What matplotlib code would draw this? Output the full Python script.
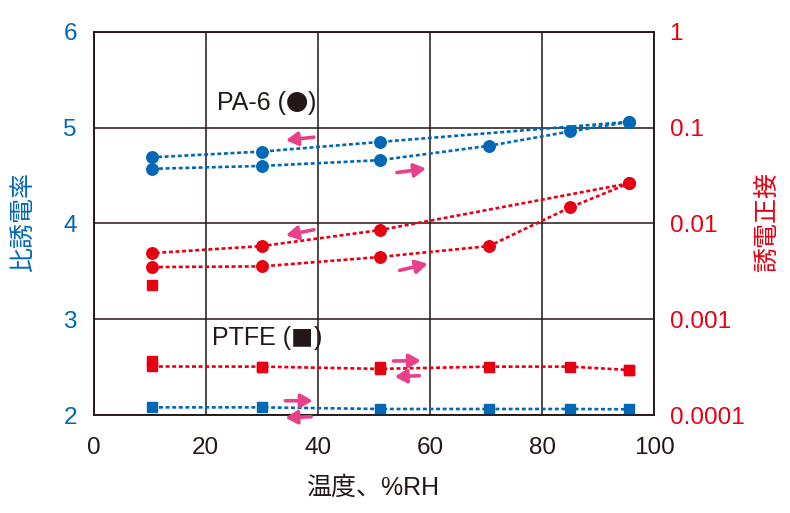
import matplotlib
matplotlib.use('Agg')
import matplotlib.pyplot as plt
from matplotlib.ticker import NullLocator
from matplotlib.offsetbox import TextArea, HPacker, AnnotationBbox

plt.rcParams['font.family'] = ['Liberation Sans', 'Noto Sans CJK JP', 'DejaVu Sans']

BLUE = '#0068b7'
RED = '#e60012'
PINK = '#e9408a'
BLACK = '#231815'

# relative humidity (%RH), rising and falling branches
rh_up = [10.5, 30, 51, 70.5, 85, 95.5]
rh_down = [95.5, 51, 30, 10.5]

# PA-6
pa6_eps_up = [4.57, 4.60, 4.66, 4.81, 4.96, 5.06]
pa6_eps_down = [5.06, 4.85, 4.75, 4.69]
pa6_tan_up = [0.0035, 0.00356, 0.00446, 0.0058, 0.0147, 0.0262]
pa6_tan_down = [0.0262, 0.0085, 0.0058, 0.0049]
extra_rh = [10.5]
extra_tan = [0.00229]

# PTFE
ptfe_eps = [2.08, 2.08, 2.063, 2.063, 2.063, 2.06]
ptfe_tan_up = [0.000321, 0.00032, 0.000303, 0.00032, 0.00032, 0.000295]
ptfe_tan_down = [0.000295, 0.000315, 0.00032, 0.000366]

right_ticks = [1e-4, 1e-3, 1e-2, 0.1, 1]
right_labels = ['0.0001', '0.001', '0.01', '0.1', '1']

fig = plt.figure(figsize=(7.9, 5.13), dpi=100)
ax = fig.add_axes([0.1184, 0.191, 0.7098, 0.747])
ax2 = ax.twinx()

ls = (0, (1.5, 1.0))
lw = 1.9
ms_c = 8.3
ms_s = 7.3

ax.plot(rh_up, pa6_eps_up, color=BLUE, ls=ls, lw=lw, marker='o', ms=ms_c, zorder=3)
ax.plot(rh_down, pa6_eps_down, color=BLUE, ls=ls, lw=lw, marker='o', ms=ms_c, zorder=3)
ax.plot(rh_up, ptfe_eps, color=BLUE, ls=ls, lw=lw, marker='s', ms=ms_s, zorder=3)

ax2.plot(rh_up, pa6_tan_up, color=RED, ls=ls, lw=lw, marker='o', ms=ms_c, zorder=3)
ax2.plot(rh_down, pa6_tan_down, color=RED, ls=ls, lw=lw, marker='o', ms=ms_c, zorder=3)
ax2.plot(extra_rh, extra_tan, color=RED, ls='none', marker='s', ms=ms_s, zorder=3)
ax2.plot(rh_up, ptfe_tan_up, color=RED, ls=ls, lw=lw, marker='s', ms=ms_s, zorder=3)
ax2.plot(rh_down, ptfe_tan_down, color=RED, ls='none', marker='s', ms=ms_s, zorder=3)

ax.set_xlim(0, 100)
ax.set_ylim(2, 6)
ax.set_xticks([0, 20, 40, 60, 80, 100])
ax.set_yticks([2, 3, 4, 5, 6])
ax.grid(True, color=BLACK, lw=1.1)
ax.set_axisbelow(True)
ax.tick_params(axis='both', length=0, labelsize=17.5)
ax.tick_params(axis='x', pad=16, colors=BLACK)
ax.tick_params(axis='y', pad=12, labelcolor=BLUE)

ax2.set_yscale('log')
ax2.set_ylim(1e-4, 1)
ax2.set_yticks(right_ticks)
ax2.set_yticklabels(right_labels)
ax2.yaxis.set_minor_locator(NullLocator())
ax2.tick_params(axis='y', length=0, labelsize=17.5, pad=11, labelcolor=RED)

for a in (ax, ax2):
    for s in a.spines.values():
        s.set_color(BLACK)
        s.set_linewidth(1.1)

# humidity direction arrows (tail, head) in left-axis data coordinates
arrows = [
    ((39.3, 4.900), (34.3, 4.868)),
    ((39.3, 3.934), (34.3, 3.876)),
    ((54.1, 4.531), (59.3, 4.572)),
    ((54.6, 3.510), (59.6, 3.579)),
    ((53.5, 2.564), (58.4, 2.567)),
    ((58.1, 2.410), (53.7, 2.400)),
    ((34.2, 2.149), (39.1, 2.149)),
    ((38.8, 1.982), (34.2, 1.972)),
]
for tail, head in arrows:
    ax2.annotate('', xy=head, xytext=tail, xycoords=ax.transData, textcoords=ax.transData,
                 annotation_clip=False,
                 arrowprops=dict(arrowstyle='-|>,head_length=0.7,head_width=0.4',
                                 color=PINK, lw=2.6, shrinkA=0, shrinkB=0))


def material_label(x, y, name, symbol):
    parts = [
        TextArea(name + ' (', textprops=dict(fontsize=18, color=BLACK)),
        TextArea(symbol, textprops=dict(fontsize=16, color=BLACK,
                                        family=['Noto Sans CJK JP', 'DejaVu Sans'])),
        TextArea(')', textprops=dict(fontsize=18, color=BLACK)),
    ]
    box = HPacker(children=parts, align='baseline', pad=0, sep=0)
    ab = AnnotationBbox(box, (x, y), xycoords='data', frameon=False,
                        box_alignment=(0.5, 0.5), zorder=5)
    ax.add_artist(ab)


material_label(30.9, 5.26, 'PA-6', '●')
material_label(30.9, 2.80, 'PTFE', '■')

fig.text(22.5 / 790, 1 - 222.5 / 513, '比誘電率', rotation=90, fontsize=18,
         color=BLUE, ha='center', va='center')
fig.text(766.7 / 790, 1 - 221.7 / 513, '誘電正接', rotation=90, fontsize=18,
         color=RED, ha='center', va='center')
fig.text(373 / 790, 1 - 487.5 / 513, '温度、%RH', fontsize=18,
         color=BLACK, ha='center', va='center')

fig.savefig('out.png', dpi=100)
